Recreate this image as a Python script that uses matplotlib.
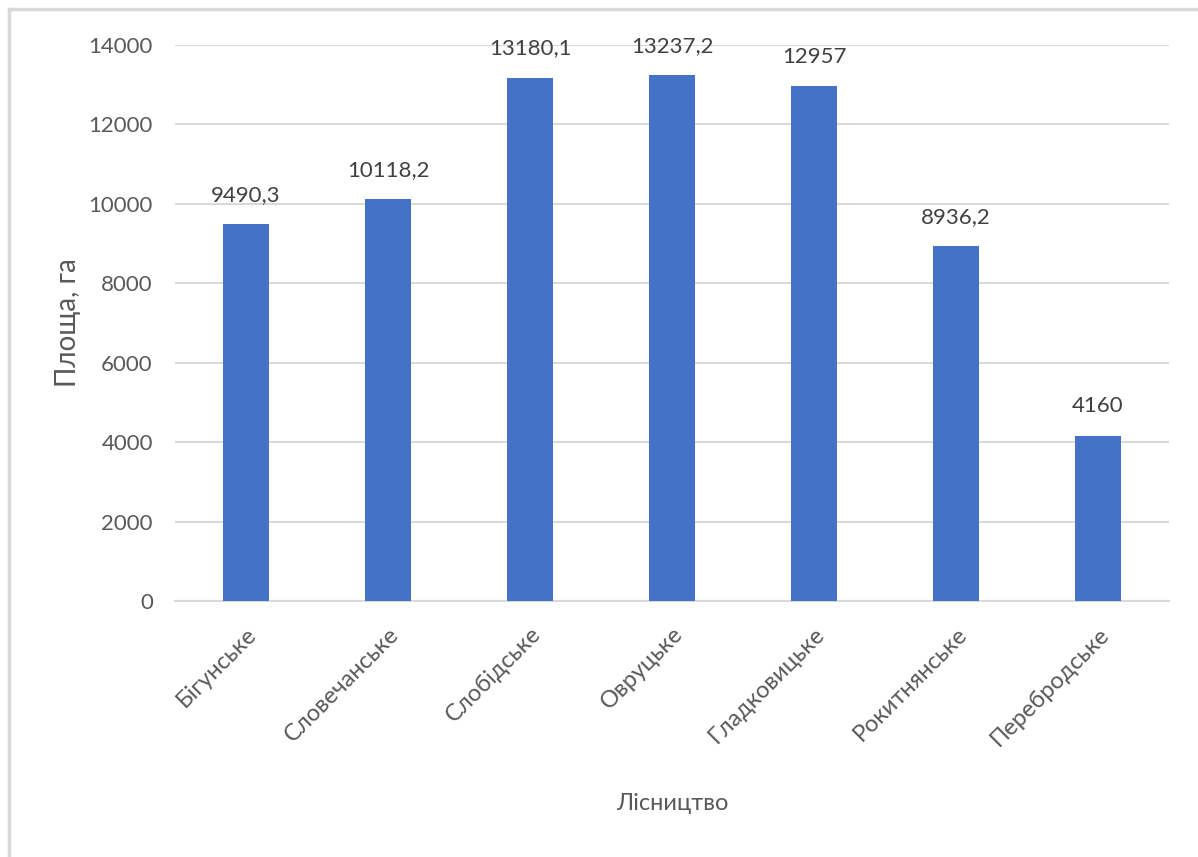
import matplotlib.pyplot as plt
from matplotlib.lines import Line2D

# Площа лісництв, га
forestries = ["Бігунське", "Словечанське", "Слобідське", "Овруцьке",
              "Гладковицьке", "Рокитнянське", "Перебродське"]
area = [9490.3, 10118.2, 13180.1, 13237.2, 12957, 8936.2, 4160]
y_ticks = [0, 2000, 4000, 6000, 8000, 10000, 12000, 14000]

text_col = "#595959"
grid_col = "#d9d9d9"
bar_col = "#4472C4"

plt.rcParams['font.family'] = ['Lato', 'DejaVu Sans']

fig = plt.figure(figsize=(11.98, 8.57), dpi=100)
ax = fig.add_axes([0.1461, 0.2987, 0.8297, 0.6488])

x = range(len(forestries))
bars = ax.bar(x, area, width=0.32, color=bar_col, zorder=3)

# labels with comma as decimal separator
def fmt(v):
    s = f"{v:g}"
    return s.replace(".", ",")

for b, v in zip(bars, area):
    ax.annotate(fmt(v), (b.get_x() + b.get_width() / 2, v),
                xytext=(0, 14), textcoords="offset points",
                ha="center", va="bottom", fontsize=16, color="#404040")

ax.set_xlim(-0.5, len(forestries) - 0.5)
ax.set_ylim(0, 14000)
ax.set_yticks(y_ticks)
ax.set_yticklabels([str(t) for t in y_ticks], fontsize=16, color=text_col)
ax.yaxis.grid(True, color=grid_col, linewidth=1.5, zorder=0)
ax.set_xticks(list(x))
ax.set_xticklabels(forestries, rotation=45, ha="right", rotation_mode="anchor",
                   fontsize=17, color=text_col)
ax.tick_params(axis="both", length=0)
ax.tick_params(axis="y", pad=16)
ax.tick_params(axis="x", pad=16)
for side in ["top", "right", "left"]:
    ax.spines[side].set_visible(False)
ax.spines["bottom"].set_color(grid_col)
ax.spines["bottom"].set_linewidth(1.5)

ax.set_ylabel("Площа, га", fontsize=20, color=text_col)
ax.set_xlabel("Лісництво", fontsize=17, color=text_col)
ax.yaxis.set_label_coords(-0.095, 0.5)
ax.xaxis.set_label_coords(0.5, -0.345)

# frame edge along top and left
fig.add_artist(Line2D([9 / 1198, 9 / 1198], [0, 1 - 9 / 857], transform=fig.transFigure,
                      color=grid_col, linewidth=2.5))
fig.add_artist(Line2D([9 / 1198, 1], [1 - 9 / 857, 1 - 9 / 857], transform=fig.transFigure,
                      color=grid_col, linewidth=2.5))

fig.savefig("out.png", dpi=100)
